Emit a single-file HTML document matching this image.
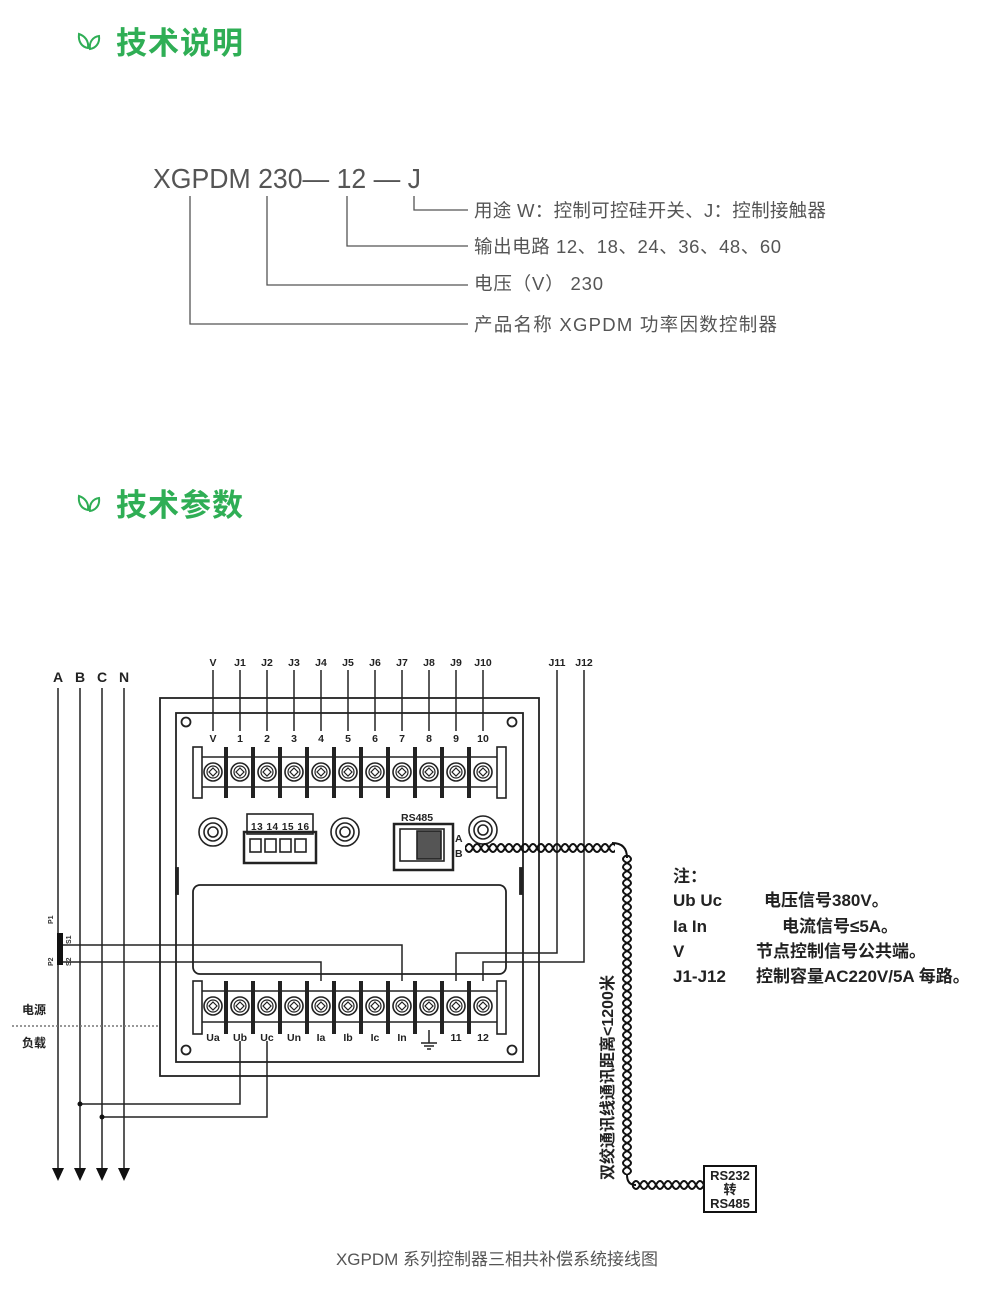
<!DOCTYPE html>
<html><head><meta charset="utf-8"><style>
html,body{margin:0;padding:0;background:#fff;}
svg{display:block;}
.h{font-family:"Liberation Sans","Noto Sans CJK SC",sans-serif;font-weight:bold;fill:#2fae55;font-size:31px;}
.t{font-family:"Liberation Sans","Noto Sans CJK SC",sans-serif;fill:#555;font-size:18.5px;}
.d{font-family:"Liberation Sans","Noto Sans CJK SC",sans-serif;font-weight:bold;fill:#222;font-size:10.5px;}
.n{font-family:"Liberation Sans","Noto Sans CJK SC",sans-serif;font-weight:bold;fill:#222;font-size:17px;}
</style></head><body>
<svg width="1000" height="1297" viewBox="0 0 1000 1297" xmlns="http://www.w3.org/2000/svg">
<defs>
<g id="leaf" fill="none" stroke="#2fae55" stroke-width="2">
<path d="M0,0 C-1,8 3,13 9,14 C10,7 6,2 0,0Z"/>
<path d="M20,2 C13,3 10,9 11,15 C17,14 21,9 20,2Z"/>
</g>
<g id="term" fill="none" stroke="#222">
<circle r="9" stroke-width="1.6"/><circle r="6" stroke-width="1.2"/>
<path d="M0,-4 L4,0 L0,4 L-4,0Z" stroke-width="1.2"/>
</g>
<pattern id="twh" x="465" y="841" width="16" height="14" patternUnits="userSpaceOnUse">
<path d="M0,7 Q4,-1 8,7 T16,7 M0,7 Q4,15 8,7 T16,7" fill="none" stroke="#111" stroke-width="2"/>
</pattern>
<pattern id="twv" x="620" y="855" width="14" height="16" patternUnits="userSpaceOnUse">
<path d="M7,0 Q-1,4 7,8 T7,16 M7,0 Q15,4 7,8 T7,16" fill="none" stroke="#111" stroke-width="2"/>
</pattern>
<pattern id="twb" x="632" y="1178" width="16" height="14" patternUnits="userSpaceOnUse">
<path d="M0,7 Q4,-1 8,7 T16,7 M0,7 Q4,15 8,7 T16,7" fill="none" stroke="#111" stroke-width="2"/>
</pattern>
</defs>

<use href="#leaf" x="79" y="34"/>
<text class="h" x="116" y="54" textLength="127">技术说明</text>
<use href="#leaf" x="79" y="496"/>
<text class="h" x="116" y="516" textLength="127">技术参数</text>

<text x="153" y="188" font-family="Liberation Sans, sans-serif" font-size="28" fill="#555" textLength="268" lengthAdjust="spacingAndGlyphs">XGPDM 230— 12 — J</text>
<g stroke="#555" stroke-width="1.3" fill="none">
<path d="M414,196 V210 H468"/>
<path d="M347,196 V246 H468"/>
<path d="M267,196 V285 H468"/>
<path d="M190,196 V324 H468"/>
</g>
<text class="t" x="474" y="217" textLength="352">用途 W：控制可控硅开关、J：控制接触器</text>
<text class="t" x="474" y="253" textLength="307">输出电路 12、18、24、36、48、60</text>
<text class="t" x="474" y="290" textLength="129">电压（V） 230</text>
<text class="t" x="474" y="331" textLength="303">产品名称  XGPDM 功率因数控制器</text>

<g stroke="#222" fill="none" stroke-width="1.8">
<rect x="160" y="698" width="379" height="378"/>
<rect x="176" y="713" width="347" height="349"/>
<rect x="193" y="885" width="313" height="89" rx="7"/>
<circle cx="186" cy="722" r="4.5"/><circle cx="512" cy="722" r="4.5"/>
<circle cx="186" cy="1050" r="4.5"/><circle cx="512" cy="1050" r="4.5"/>
<rect x="176" y="868" width="2" height="26" fill="#222"/><rect x="520" y="868" width="2" height="26" fill="#222"/>
</g>

<g stroke="#222" stroke-width="1.6" fill="none">
<rect x="193" y="747" width="9" height="51"/><rect x="497" y="747" width="9" height="51"/>
<line x1="202" y1="757" x2="497" y2="757"/><line x1="202" y1="787" x2="497" y2="787"/>
</g>
<g fill="#222">
<rect x="224" y="747" width="4" height="51"/><rect x="251" y="747" width="4" height="51"/><rect x="278" y="747" width="4" height="51"/><rect x="305" y="747" width="4" height="51"/><rect x="332" y="747" width="4" height="51"/><rect x="359" y="747" width="4" height="51"/><rect x="386" y="747" width="4" height="51"/><rect x="413" y="747" width="4" height="51"/><rect x="440" y="747" width="4" height="51"/><rect x="467" y="747" width="4" height="51"/>
</g>
<use href="#term" x="213" y="772"/><use href="#term" x="240" y="772"/><use href="#term" x="267" y="772"/><use href="#term" x="294" y="772"/><use href="#term" x="321" y="772"/><use href="#term" x="348" y="772"/><use href="#term" x="375" y="772"/><use href="#term" x="402" y="772"/><use href="#term" x="429" y="772"/><use href="#term" x="456" y="772"/><use href="#term" x="483" y="772"/>
<g class="d" text-anchor="middle">
<text x="213" y="742">V</text><text x="240" y="742">1</text><text x="267" y="742">2</text><text x="294" y="742">3</text><text x="321" y="742">4</text><text x="348" y="742">5</text><text x="375" y="742">6</text><text x="402" y="742">7</text><text x="429" y="742">8</text><text x="456" y="742">9</text><text x="483" y="742">10</text>
<text x="213" y="666">V</text><text x="240" y="666">J1</text><text x="267" y="666">J2</text><text x="294" y="666">J3</text><text x="321" y="666">J4</text><text x="348" y="666">J5</text><text x="375" y="666">J6</text><text x="402" y="666">J7</text><text x="429" y="666">J8</text><text x="456" y="666">J9</text><text x="483" y="666">J10</text><text x="557" y="666">J11</text><text x="584" y="666">J12</text>
</g>
<g stroke="#222" stroke-width="1.5">
<line x1="213" y1="670" x2="213" y2="731"/><line x1="240" y1="670" x2="240" y2="731"/><line x1="267" y1="670" x2="267" y2="731"/><line x1="294" y1="670" x2="294" y2="731"/><line x1="321" y1="670" x2="321" y2="731"/><line x1="348" y1="670" x2="348" y2="731"/><line x1="375" y1="670" x2="375" y2="731"/><line x1="402" y1="670" x2="402" y2="731"/><line x1="429" y1="670" x2="429" y2="731"/><line x1="456" y1="670" x2="456" y2="731"/><line x1="483" y1="670" x2="483" y2="731"/>
</g>

<g stroke="#222" fill="none" stroke-width="1.6">
<circle cx="213" cy="832" r="14"/><circle cx="213" cy="832" r="9"/><circle cx="213" cy="832" r="5"/>
<circle cx="345" cy="832" r="14"/><circle cx="345" cy="832" r="9"/><circle cx="345" cy="832" r="5"/>
<circle cx="483" cy="830" r="14"/><circle cx="483" cy="830" r="9"/><circle cx="483" cy="830" r="5"/>
<rect x="247" y="814" width="66" height="20"/>
<rect x="244" y="832" width="72" height="31" stroke-width="2.5"/>
<rect x="250" y="839" width="11" height="13"/><rect x="265" y="839" width="11" height="13"/><rect x="280" y="839" width="11" height="13"/><rect x="295" y="839" width="11" height="13"/>
<rect x="394" y="824" width="59" height="46" stroke-width="2.5"/>
<rect x="400" y="829" width="44" height="32"/>
<rect x="417" y="831" width="24" height="28" fill="#555"/>
</g>
<text x="251" y="830" font-family="Liberation Sans" font-weight="bold" font-size="10" fill="#222" textLength="58">13 14 15 16</text>
<text x="401" y="821" class="d">RS485</text>
<text x="455" y="842" class="d">A</text><text x="455" y="857" class="d">B</text>

<g stroke="#222" stroke-width="1.6" fill="none">
<rect x="193" y="981" width="9" height="53"/><rect x="497" y="981" width="9" height="53"/>
<line x1="202" y1="991" x2="497" y2="991"/><line x1="202" y1="1022" x2="497" y2="1022"/>
</g>
<g fill="#222">
<rect x="224" y="981" width="4" height="53"/><rect x="251" y="981" width="4" height="53"/><rect x="278" y="981" width="4" height="53"/><rect x="305" y="981" width="4" height="53"/><rect x="332" y="981" width="4" height="53"/><rect x="359" y="981" width="4" height="53"/><rect x="386" y="981" width="4" height="53"/><rect x="413" y="981" width="4" height="53"/><rect x="440" y="981" width="4" height="53"/><rect x="467" y="981" width="4" height="53"/>
</g>
<use href="#term" x="213" y="1006"/><use href="#term" x="240" y="1006"/><use href="#term" x="267" y="1006"/><use href="#term" x="294" y="1006"/><use href="#term" x="321" y="1006"/><use href="#term" x="348" y="1006"/><use href="#term" x="375" y="1006"/><use href="#term" x="402" y="1006"/><use href="#term" x="429" y="1006"/><use href="#term" x="456" y="1006"/><use href="#term" x="483" y="1006"/>
<g class="d" text-anchor="middle">
<text x="213" y="1041">Ua</text><text x="240" y="1041">Ub</text><text x="267" y="1041">Uc</text><text x="294" y="1041">Un</text><text x="321" y="1041">Ia</text><text x="348" y="1041">Ib</text><text x="375" y="1041">Ic</text><text x="402" y="1041">In</text><text x="456" y="1041">11</text><text x="483" y="1041">12</text>
</g>
<g stroke="#222" stroke-width="1.5" fill="none">
<path d="M429,1030 V1043 M421,1043 H437 M424,1046 H434 M427,1049 H431"/>
<path d="M557,670 V953 H456 V981"/>
<path d="M584,670 V962 H483 V981"/>
<path d="M60,945 H402 V981"/>
<path d="M60,962 H321 V981"/>
<path d="M240,1041 V1104 H80"/>
<path d="M267,1041 V1117 H102"/>
<line x1="58" y1="688" x2="58" y2="1170"/><line x1="80" y1="688" x2="80" y2="1170"/><line x1="102" y1="688" x2="102" y2="1170"/><line x1="124" y1="688" x2="124" y2="1170"/>
</g>
<g fill="#111">
<circle cx="80" cy="1104" r="2.5"/><circle cx="102" cy="1117" r="2.5"/>
<path d="M52,1168 h12 l-6,13z"/><path d="M74,1168 h12 l-6,13z"/><path d="M96,1168 h12 l-6,13z"/><path d="M118,1168 h12 l-6,13z"/>
<rect x="57" y="933" width="6" height="32"/>
</g>
<g class="n" style="font-size:14px" text-anchor="middle"><text x="58" y="682">A</text><text x="80" y="682">B</text><text x="102" y="682">C</text><text x="124" y="682">N</text></g>
<g font-family="Liberation Sans" font-weight="bold" font-size="7" fill="#333">
<text transform="translate(53,924) rotate(-90)">P1</text>
<text transform="translate(53,966) rotate(-90)">P2</text>
<text transform="translate(71,944) rotate(-90)">S1</text>
<text transform="translate(71,966) rotate(-90)">S2</text>
</g>
<text class="d" x="22" y="1014" style="font-size:12px">电源</text>
<text class="d" x="22" y="1047" style="font-size:12px">负载</text>
<line x1="12" y1="1026" x2="160" y2="1026" stroke="#777" stroke-width="1.4" stroke-dasharray="2,2"/>

<rect x="465" y="841" width="150" height="14" fill="url(#twh)"/>
<path d="M612,843 Q627,843 627,858" fill="none" stroke="#111" stroke-width="2"/>
<rect x="620" y="855" width="14" height="320" fill="url(#twv)"/>
<path d="M627,1175 Q627,1185 636,1185" fill="none" stroke="#111" stroke-width="2"/>
<rect x="632" y="1178" width="72" height="14" fill="url(#twb)"/>
<rect x="704" y="1166" width="52" height="46" fill="#fff" stroke="#111" stroke-width="2"/>
<g class="d" style="font-size:13px" text-anchor="middle"><text x="730" y="1180">RS232</text><text x="730" y="1194">转</text><text x="730" y="1208">RS485</text></g>
<text class="d" style="font-size:16px" transform="translate(613,1180) rotate(-90)">双绞通讯线通讯距离&lt;1200米</text>

<g class="n">
<text x="673" y="882">注：</text>
<text x="673" y="906">Ub  Uc</text><text x="764" y="906">电压信号380V。</text>
<text x="673" y="932">Ia  In</text><text x="782" y="932">电流信号≤5A。</text>
<text x="673" y="957">V</text><text x="756" y="957">节点控制信号公共端。</text>
<text x="673" y="982">J1-J12</text><text x="756" y="982">控制容量AC220V/5A 每路。</text>
</g>

<text x="497" y="1265" text-anchor="middle" font-family="Liberation Sans, Noto Sans CJK SC, sans-serif" font-size="17" fill="#555">XGPDM 系列控制器三相共补偿系统接线图</text>
</svg>
</body></html>
